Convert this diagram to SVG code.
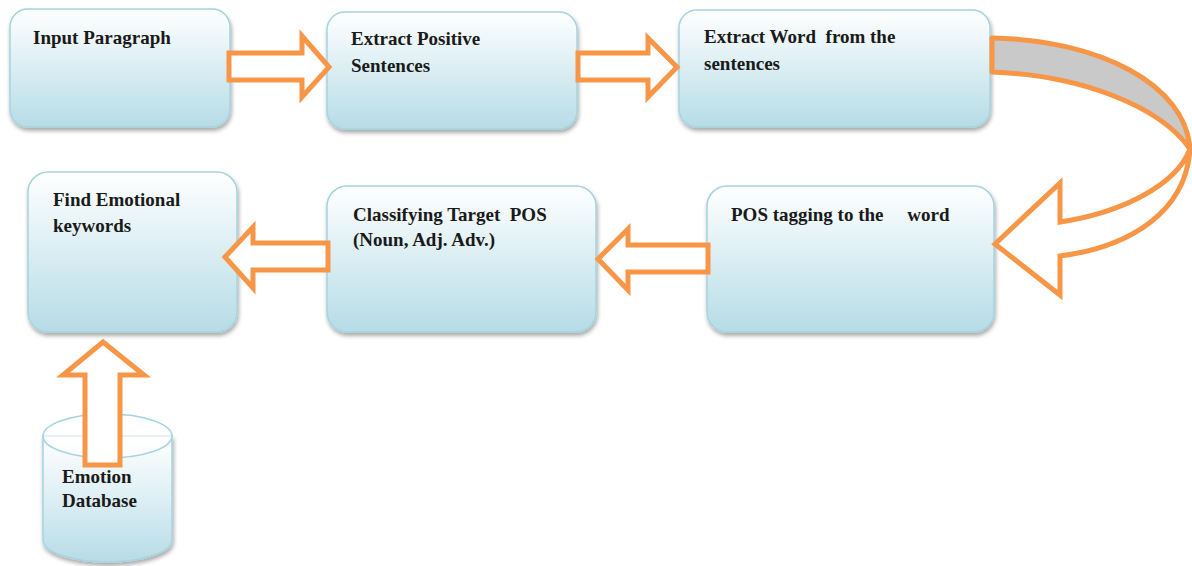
<svg xmlns="http://www.w3.org/2000/svg" width="1192" height="566" viewBox="0 0 1192 566">
<defs>
<linearGradient id="bg" x1="0" y1="0" x2="0" y2="1">
<stop offset="0" stop-color="#FFFFFF"/>
<stop offset="0.6" stop-color="#D3EAF0"/>
<stop offset="1" stop-color="#B6DCE6"/>
</linearGradient>
<linearGradient id="cg" x1="0" y1="0" x2="0" y2="1">
<stop offset="0" stop-color="#FFFFFF"/>
<stop offset="0.5" stop-color="#DDEFF4"/>
<stop offset="1" stop-color="#B6DCE6"/>
</linearGradient>
<filter id="sh" x="-10%" y="-10%" width="120%" height="130%">
<feGaussianBlur in="SourceAlpha" stdDeviation="2"/>
<feOffset dx="1" dy="3" result="b"/>
<feComponentTransfer><feFuncA type="linear" slope="0.35"/></feComponentTransfer>
<feMerge><feMergeNode/><feMergeNode in="SourceGraphic"/></feMerge>
</filter>
</defs>
<style>
.box{fill:url(#bg);stroke:#A5D3E0;stroke-width:1.5;filter:url(#sh)}
.t{font-family:"Liberation Serif","Times New Roman",serif;font-weight:bold;font-size:19px;fill:#1a1a1a}
.ar{fill:#FFFFFF;stroke:#F79646;stroke-width:5;stroke-linejoin:miter}
</style>
<g id="n1"><rect class="box" x="10" y="9" width="220" height="118" rx="18"/><text class="t" x="33" y="44">Input Paragraph</text></g>
<g id="n2"><rect class="box" x="327" y="12" width="250" height="117" rx="18"/><text class="t" x="351" y="45">Extract Positive</text><text class="t" x="351" y="72">Sentences</text></g>
<g id="n3"><rect class="box" x="679" y="10" width="311" height="117" rx="18"/><text class="t" x="704" y="43" xml:space="preserve">Extract Word  from the</text><text class="t" x="704" y="70">sentences</text></g>
<g id="n4"><rect class="box" x="707" y="186" width="287" height="146" rx="20"/><text class="t" x="731" y="221" xml:space="preserve">POS tagging to the     word</text></g>
<g id="n5"><rect class="box" x="327" y="186" width="269" height="146" rx="20"/><text class="t" x="353" y="221" xml:space="preserve">Classifying Target  POS</text><text class="t" x="353" y="246">(Noun, Adj. Adv.)</text></g>
<g id="n6"><rect class="box" x="28" y="172" width="209" height="160" rx="20"/><text class="t" x="53" y="206">Find Emotional</text><text class="t" x="53" y="232">keywords</text></g>
<g id="db">
<path d="M43,436 L43,540 A64.5,22 0 0 0 172,540 L172,436 Z" fill="url(#cg)" stroke="#A5D3E0" stroke-width="1.5" filter="url(#sh)"/>
<ellipse cx="107.5" cy="436" rx="64.5" ry="22" fill="#FFFFFF" fill-opacity="0.6" stroke="#A5D3E0" stroke-width="1.5"/>
</g>
<g id="connectors">
<path class="ar" d="M229,53 L302,53 L302,36 L329,67 L302,97 L302,80 L229,80 Z"/>
<path class="ar" d="M578,53 L648,53 L648,38 L677,67 L648,97 L648,80 L578,80 Z"/>
<path d="M992,38 C1100,40 1186,85 1190,149 C1160,106 1080,75 992,72 Z" fill="#C9C9C9" stroke="#F79646" stroke-width="5" stroke-linejoin="round"/>
<path class="ar" d="M1190,149 C1186,212 1130,247 1060,256 L1060,295 L995,244 L1060,183 L1060,222 C1120,213 1176,186 1190,149 Z"/>
<path class="ar" d="M708,245 L628,245 L628,229 L598,259 L628,290 L628,272 L708,272 Z"/>
<path class="ar" d="M328,243 L253,243 L253,227 L225,257 L253,288 L253,270 L328,270 Z"/>
<path class="ar" d="M85,465 L85,375 L63,375 L103,342 L144,375 L120,375 L120,465 Z"/>
</g>
<g id="dbtext"><text class="t" x="62" y="483">Emotion</text><text class="t" x="62" y="507">Database</text></g>
</svg>
